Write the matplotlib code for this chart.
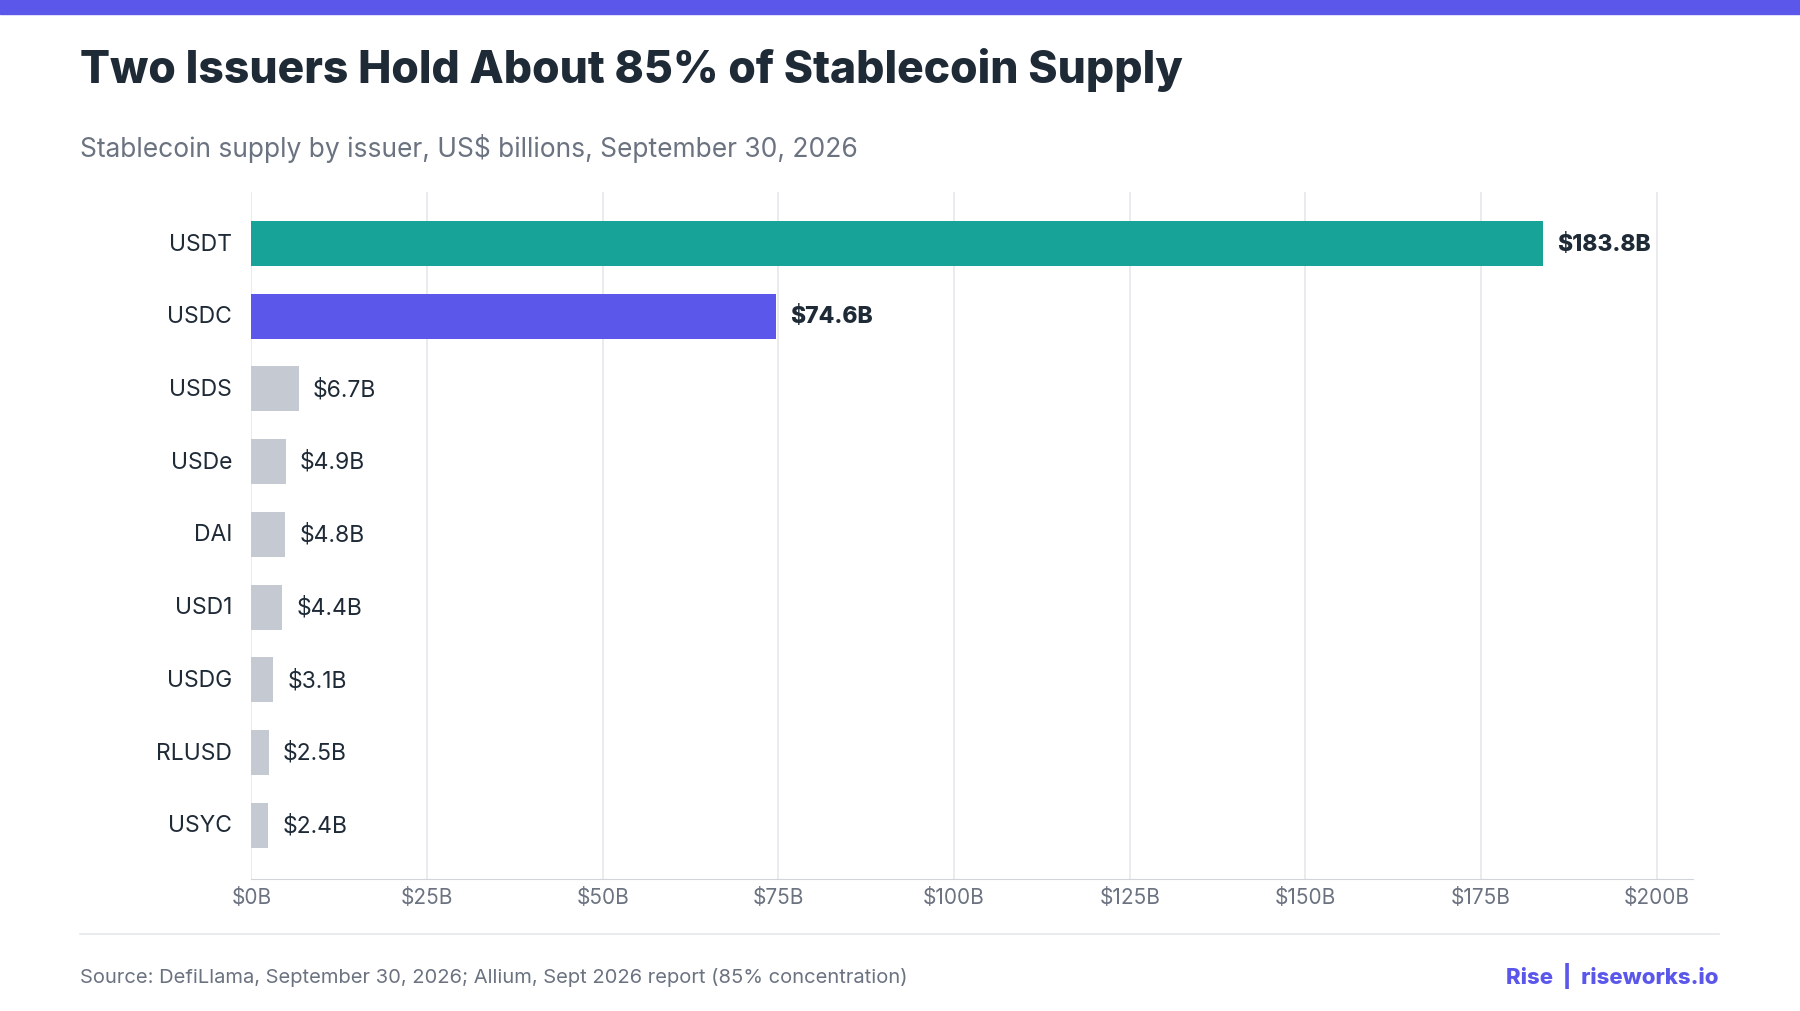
import matplotlib
matplotlib.use("Agg")
import matplotlib.pyplot as plt
from matplotlib.patches import Rectangle
from matplotlib.lines import Line2D

plt.rcParams['font.family'] = ['Inter', 'DejaVu Sans']

issuers = ["USDT", "USDC", "USDS", "USDe", "DAI", "USD1", "USDG", "RLUSD", "USYC"]
values = [183.8, 74.6, 6.7, 4.9, 4.8, 4.4, 3.1, 2.5, 2.4]
labels = ["$183.8B", "$74.6B", "$6.7B", "$4.9B", "$4.8B", "$4.4B", "$3.1B", "$2.5B", "$2.4B"]
ticks = [0, 25, 50, 75, 100, 125, 150, 175, 200]
tick_labels = ["$0B", "$25B", "$50B", "$75B", "$100B", "$125B", "$150B", "$175B", "$200B"]
colors = ["#17a398", "#5b57eb"] + ["#c5c9d2"] * 7

fig = plt.figure(figsize=(18, 10.12), dpi=100)
fig.patches.append(Rectangle((0, 0.985), 1, 0.015, transform=fig.transFigure, color="#5b57eb"))
fig.text(0.0446, 0.931, "Two Issuers Hold About 85% of Stablecoin Supply", fontsize=32, weight="heavy", color="#1f2a37", va="center")
fig.text(0.0446, 0.853, "Stablecoin supply by issuer, US$ billions, September 30, 2026", fontsize=19, color="#6b7280", va="center")

ax = fig.add_axes([0.1397, 0.1304, 0.801, 0.679])
y = list(range(len(issuers)))
ax.barh(y, values, height=0.62, color=colors, zorder=3)
for i, (v, l) in enumerate(zip(values, labels)):
    bold = i < 2
    ax.text(v + 2, i, l, va="center", ha="left", fontsize=16.5,
            weight="heavy" if bold else "normal", color="#1f2a37")
ax.set_xlim(0, 205.2)
ax.set_ylim(8.74, -0.71)
ax.set_yticks(y)
ax.set_yticklabels(issuers, fontsize=16.5, color="#1f2a37", va="center")
ax.set_xticks(ticks)
ax.set_xticklabels(tick_labels, fontsize=15, color="#6b7280")
ax.tick_params(axis='x', length=0, pad=6)
ax.tick_params(axis='y', length=0, pad=14)
ax.grid(axis="x", color="#e5e7eb", lw=1.2, zorder=0)
for s in ["top", "right", "left"]:
    ax.spines[s].set_visible(False)
ax.spines["bottom"].set_color("#d1d5db")

fig.add_artist(Line2D([0.0446, 0.955], [0.076, 0.076], transform=fig.transFigure, color="#e5e7eb", lw=1.2))
fig.text(0.0446, 0.034, "Source: DefiLlama, September 30, 2026; Allium, Sept 2026 report (85% concentration)", fontsize=14.5, color="#6b7280", va="center")
fig.text(0.955, 0.036, "Rise  |  riseworks.io", fontsize=16, weight="heavy", color="#5b57eb", va="center", ha="right")

fig.savefig("out.png", dpi=100, facecolor="white")
